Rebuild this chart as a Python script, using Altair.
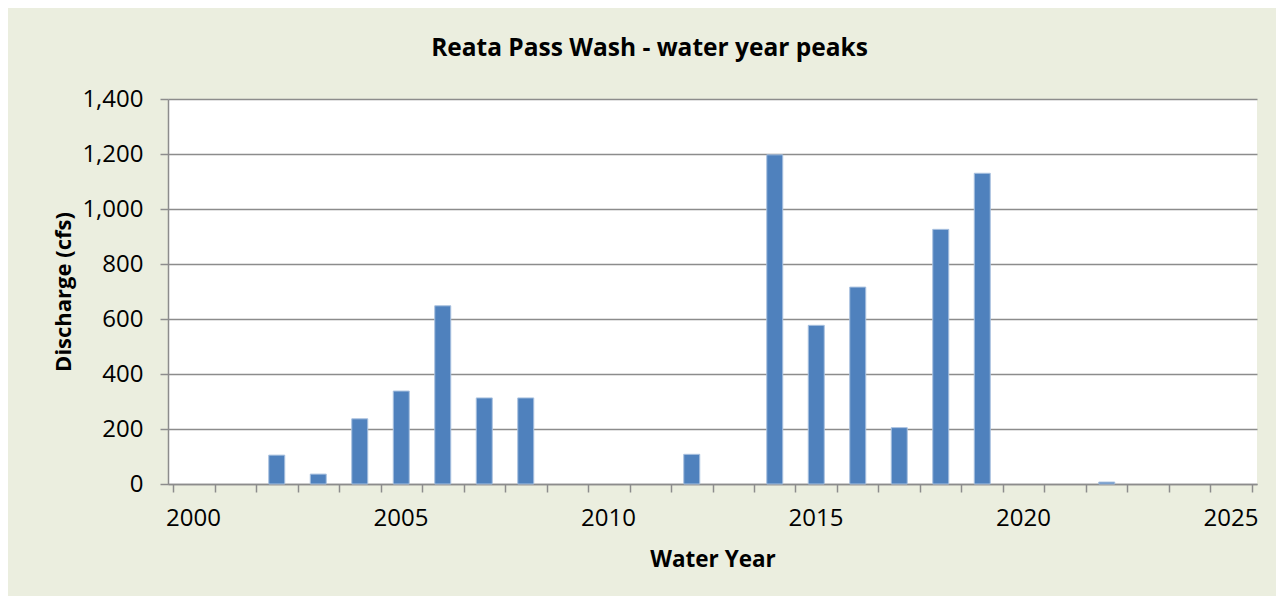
import altair as alt
import pandas as pd

# Water year peaks (cfs)
years = [2002, 2003, 2004, 2005, 2006, 2007, 2008, 2012, 2014, 2015, 2016, 2017, 2018, 2019, 2022]
peaks = [105, 36, 237, 338, 648, 313, 313, 108, 1197, 577, 716, 205, 926, 1130, 7]

x_tick_values = [1999.5 + i for i in range(27)]
y_tick_values = [0, 200, 400, 600, 800, 1000, 1200, 1400]

df = pd.DataFrame({"year": years, "peak": peaks})

FONT = "Open Sans"
GRID = "#8C8C8C"

bars = alt.Chart(df).mark_bar(
    size=16, color="#4F81BD", stroke="#A9C1DF", strokeWidth=1
).encode(
    x=alt.X(
        "year:Q",
        scale=alt.Scale(domain=[1999.5, 2025.5], nice=False, zero=False),
        axis=alt.Axis(
            values=x_tick_values,
            labelExpr="(datum.value + 0.5) % 5 == 0 && datum.value < 2025 ? toString(datum.value + 0.5) : ''",
            labelOffset=20,
            labelOverlap=False,
            labelBound=False,
            labelFlush=False,
            grid=False,
            tickSize=8,
            tickColor=GRID,
            tickWidth=1.5,
            domainColor=GRID,
            domainWidth=1.5,
            labelFont=FONT,
            labelFontSize=24,
            labelColor="black",
            labelPadding=14,
            title="Water Year",
            titleFont=FONT,
            titleFontSize=22.5,
            titleFontWeight="bold",
            titleColor="black",
            titleBaseline="alphabetic",
            titleY=82,
        ),
    ),
    y=alt.Y(
        "peak:Q",
        scale=alt.Scale(domain=[0, 1400], nice=False),
        axis=alt.Axis(
            values=y_tick_values,
            format=",d",
            grid=True,
            gridColor=GRID,
            gridWidth=1.5,
            tickSize=8,
            tickColor=GRID,
            tickWidth=1.5,
            domainColor=GRID,
            domainWidth=1.5,
            labelFont=FONT,
            labelFontSize=24,
            labelColor="black",
            labelPadding=17,
            title="Discharge (cfs)",
            titleFont=FONT,
            titleFontSize=22,
            titleFontWeight="bold",
            titleColor="black",
            titleBaseline="alphabetic",
            titleX=-98,
        ),
    ),
)

chart = bars.properties(
    width=1089,
    height=385,
    autosize=alt.AutoSizeParams(type="none"),
    padding={"left": 160, "top": 91, "right": 19, "bottom": 112},
    background="#EBEEDF",
    title=alt.TitleParams(
        "Reata Pass Wash - water year peaks",
        font=FONT,
        fontSize=24.5,
        fontWeight="bold",
        color="black",
        anchor="middle",
        frame="group",
        dx=-63,
        baseline="alphabetic",
        offset=7,
    ),
).configure_view(fill="white", stroke=None)

chart.save("out.html", embed_options={"renderer": "svg", "actions": False})
